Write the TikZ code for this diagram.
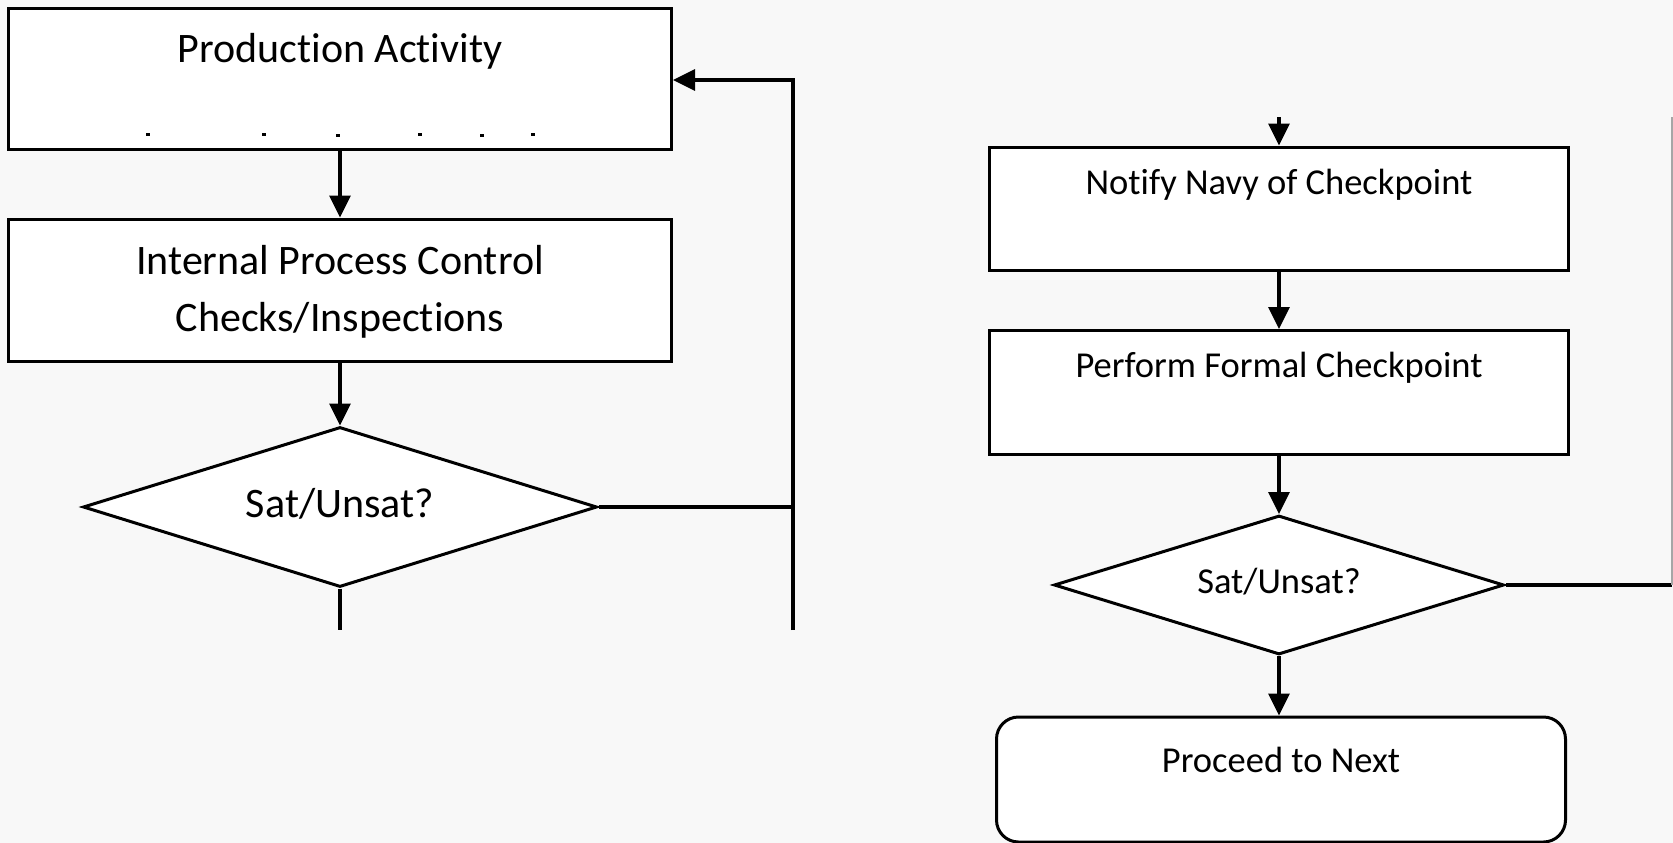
\documentclass[tikz,border=0pt]{standalone}
\usepackage{fontspec}
\setmainfont{Carlito}[Ligatures=NoCommon]
\usetikzlibrary{arrows.meta,shapes.geometric}
\definecolor{bgc}{HTML}{F8F8F8}
\tikzset{
  boxshape/.style={draw=black,fill=white,line width=3pt,rectangle,inner sep=0pt},
  decshape/.style={draw=black,fill=white,line width=3pt,diamond,aspect=2,inner sep=0pt},
  bigtxt/.style={font=\fontsize{42}{50}\selectfont,inner sep=0pt,anchor=center},
  smalltxt/.style={font=\fontsize{36.5}{44}\selectfont,inner sep=0pt,anchor=center},
  conn/.style={line width=3.2pt,draw=black},
  arr/.style={conn,-{Triangle[length=22pt,width=21pt]}},
  tinymark/.style={fill=black,inner sep=0pt,minimum width=4pt,minimum height=3pt,rectangle}
}
\begin{document}
\begin{tikzpicture}[x=1pt,y=-1pt]
\fill[bgc] (0,0) rectangle (1673,843);
\useasboundingbox (0,0) rectangle (1673,843);
\begin{scope}
\clip (0,0) rectangle (1673,843);
% left column
\node[boxshape,minimum width=663pt,minimum height=141pt] (b1) at (340,79) {};
\node[bigtxt] (t1) at (340,51) {Production Activity};
\node[tinymark] (m1) at (148,134) {};
\node[tinymark] (m2) at (264,134) {};
\node[tinymark] (m3) at (338,135) {};
\node[tinymark] (m4) at (420,134) {};
\node[tinymark] (m5) at (482,135) {};
\node[tinymark] (m6) at (533,134) {};
\node[boxshape,minimum width=663pt,minimum height=142pt] (b2) at (340,290) {};
\node[bigtxt] (t2a) at (340,260) {Internal Process Control};
\node[bigtxt] (t2b) at (340,320) {Checks/Inspections};
\node[decshape,minimum width=514pt,minimum height=160pt] (d1) at (340,507) {};
\node[bigtxt] (t3) at (340,504) {Sat/Unsat?};
\coordinate (d1end) at (340,630);
\coordinate (loopb) at (793,630);
\coordinate (loopt) at (793,80);
\coordinate (loopm) at (793,507);
\draw[arr] (b1.south) -- (b2.north);
\draw[arr] (b2.south) -- (d1.north);
\draw[conn] (d1.south) -- (d1end);
\draw[conn] (d1.east) -- (loopm);
\draw[arr] (loopb) -- (loopt) -- (b1.east |- loopt);
% right column
\node[boxshape,minimum width=579pt,minimum height=123pt] (b3) at (1279,208.5) {};
\node[smalltxt] (t4) at (1279,185) {Notify Navy of Checkpoint};
\node[boxshape,minimum width=579pt,minimum height=124pt] (b4) at (1279,392.5) {};
\node[smalltxt] (t5) at (1279,368) {Perform Formal Checkpoint};
\node[decshape,minimum width=450pt,minimum height=139pt] (d2) at (1279,585) {};
\node[smalltxt] (t6) at (1279,582) {Sat/Unsat?};
\node[boxshape,rounded corners=22pt,minimum width=569pt,minimum height=125pt] (b5) at (1281,779.5) {};
\node[smalltxt] (t7) at (1281,760) {Proceed to Next};
\coordinate (intop) at (1279,117);
\coordinate (rbot) at (1672,585);
\coordinate (rtop) at (1672,117);
\draw[arr] (intop) -- (b3.north);
\draw[arr] (b3.south) -- (b4.north);
\draw[arr] (b4.south) -- (d2.north);
\draw[arr] (d2.south) -- (d2.south |- b5.north);
\draw[conn] (d2.east) -- (rbot);
\draw[line width=1.2pt,draw=gray!70] (rbot) -- (rtop);
\end{scope}
\end{tikzpicture}
\end{document}
